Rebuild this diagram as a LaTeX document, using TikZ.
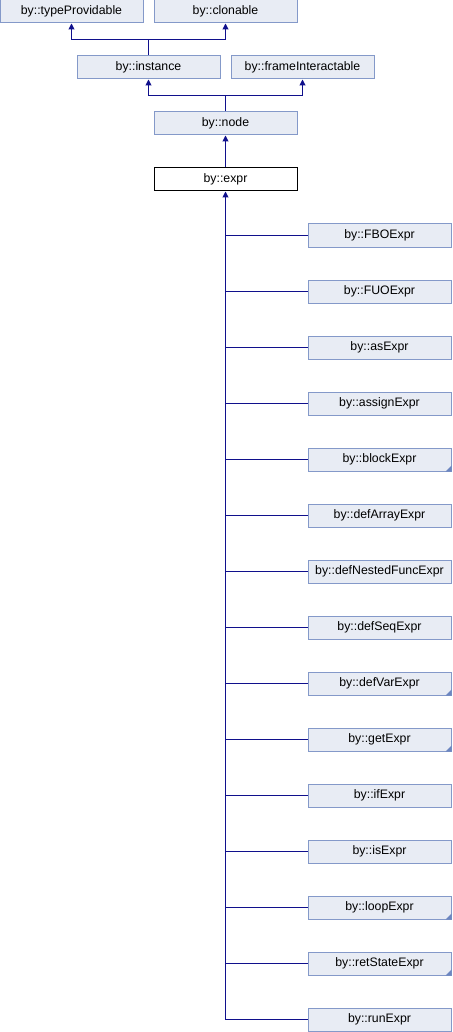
\documentclass[tikz,border=0pt]{standalone}
\usepackage{fontspec}
\setmainfont{Liberation Sans}
\usetikzlibrary{arrows.meta}

\definecolor{boxfill}{HTML}{E8ECF4}
\definecolor{boxline}{HTML}{8499C9}
\definecolor{edgeblue}{HTML}{10108C}
\definecolor{markblue}{HTML}{6C86C0}

\tikzset{
  cls/.style={draw=boxline, fill=boxfill, line width=1pt, minimum width=143pt,
    minimum height=23pt, inner sep=0pt, font=\fontsize{12.3}{14}\selectfont},
  cur/.style={cls, draw=black, fill=white},
  edge/.style={draw=edgeblue, line width=1pt},
  inh/.style={edge, -{Triangle[width=6pt,length=6pt]}},
}

\begin{document}
\begin{tikzpicture}[x=1pt, y=-1pt]
    \useasboundingbox (0,0) rectangle (452,1032);

    % bases
    \node [cls] (typeProvidable) at (71.5,11.5) {by::typeProvidable};
    \node [cls] (clonable) at (225.5,11.5) {by::clonable};
    \node [cls] (instance) at (148.5,67.5) {by::instance};
    \node [cls] (frameInteractable) at (302.5,67.5) {by::frameInteractable};
    \node [cls] (byNode) at (225.5,123.5) {by::node};
    \node [cur] (expr) at (225.5,179.5) {by::expr};

    \coordinate (instJoin) at (148.5,40);
    \draw [edge] (instance.north) -- (instJoin);
    \draw [inh] (instJoin) -| (typeProvidable.south);
    \draw [inh] (instJoin) -| (clonable.south);

    \coordinate (nodeJoin) at (225.5,96);
    \draw [edge] (byNode.north) -- (nodeJoin);
    \draw [inh] (nodeJoin) -| (instance.south);
    \draw [inh] (nodeJoin) -| (frameInteractable.south);

    \draw [inh] (expr.north) -- (byNode.south);

    % derived classes
    \foreach \name [count=\i from 0] in {FBOExpr,FUOExpr,asExpr,assignExpr,blockExpr,
        defArrayExpr,defNestedFuncExpr,defSeqExpr,defVarExpr,getExpr,ifExpr,isExpr,
        loopExpr,retStateExpr,runExpr} {
      \node [cls] (\name) at (379.5,235.5+56*\i) {by::\name};
      \draw [edge] (\name.west) -- (\name.west -| expr.south);
    }
    \draw [inh] (runExpr.west -| expr.south) -- (expr.south);

    % corner marks
    \foreach \name in {blockExpr,defVarExpr,getExpr,loopExpr,retStateExpr}
      \fill [markblue] ([xshift=-6pt]\name.south east) -- ([yshift=6pt]\name.south east)
        -- (\name.south east) -- cycle;
  \end{tikzpicture}
\end{document}
